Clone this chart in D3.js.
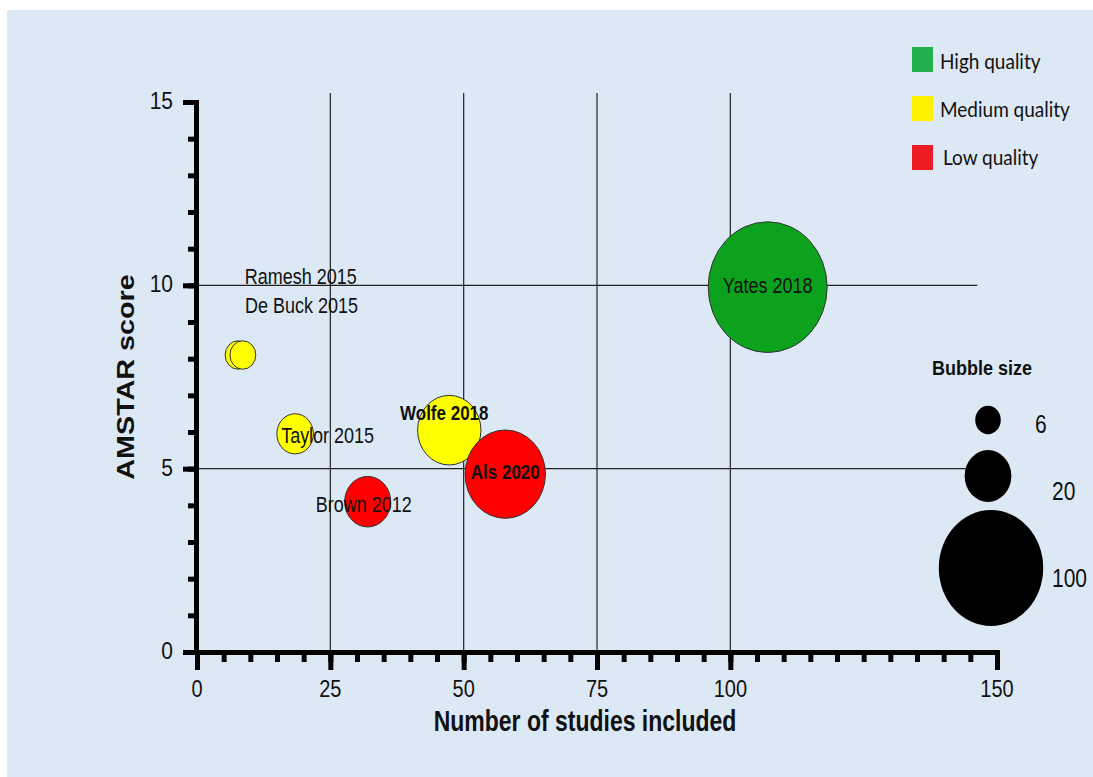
<!DOCTYPE html>
<html>
<head>
<meta charset="utf-8">
<script src="https://cdn.jsdelivr.net/npm/d3@7"></script>
<style>
body{margin:0;background:#fff}
svg{display:block}
</style>
</head>
<body>
<div id="chart"></div>
<script>
// data, drawn in this order (later ones sit on top)
var studies=["Wolfe 2018","Als 2020","Yates 2018","Brown 2012","Taylor 2015","De Buck 2015","Ramesh 2015"]
var nStudies=[47.3,57.8,107,32,18.4,7.7,8.6]
var amstar=[6.05,4.85,9.95,4.1,5.95,8.1,8.1]
var bubbleSize=[36,58,127,19,12,6,6]
var quality=["Medium","Low","High","Low","Medium","Medium","Medium"]
var boldLabel=[true,true,false,false,false,false,false]

var qualityNames=["High","Medium","Low"]
var qualityLabels=["High quality","Medium quality","Low quality"]
var sizeLegend=[6,20,100]

var xMajor=[0,25,50,75,100,150]
var yMajor=[0,5,10,15]
var gridX=[25,50,75,100]
var gridY=[5,10]

var width=1093,height=777

var svg=d3.select("#chart").append("svg")
		.attr("width",width)
		.attr("height",height)

svg.append("rect")
	.attr("x",7).attr("y",10)
	.attr("width",width-7).attr("height",height-10)
	.attr("fill","#dde8f5")

var x=d3.scaleLinear().domain([0,150]).range([197,997])
var y=d3.scaleLinear().domain([0,15]).range([652,102])
var r=d3.scaleSqrt().domain([0,100]).range([0,58])
var bubbleColor=d3.scaleOrdinal().domain(qualityNames).range(["#0ca21d","#ffff00","#ff0000"])
var keyColor=d3.scaleOrdinal().domain(qualityNames).range(["#22b14c","#fff200","#ed1c24"])

// stretched text (reference text is taller than it is wide)
function stext(g,str,px,py,size,opts){
	opts=opts||{}
	var k=opts.k||1.22
	var t=g.append("text")
		.attr("transform","translate("+px+","+py+") scale(1,"+k+")")
		.attr("font-family",opts.family||"'Liberation Sans', Arial, sans-serif")
		.attr("font-size",size+"px")
		.attr("font-weight",opts.bold?"bold":"normal")
		.attr("text-anchor",opts.anchor||"start")
		.attr("fill","#111")
		.text(str)
	return t
}

// grid lines
var grid=svg.append("g").attr("stroke","#222").attr("stroke-width",1.2)
grid.selectAll(".vx").data(gridX).enter().append("line")
	.attr("x1",function(d){return x(d)}).attr("x2",function(d){return x(d)})
	.attr("y1",y(15)-9).attr("y2",y(0))
grid.selectAll(".hy").data(gridY).enter().append("line")
	.attr("y1",function(d){return y(d)}).attr("y2",function(d){return y(d)})
	.attr("x1",x(0)).attr("x2",x(146.3))

// axes
function styleAxis(g){
	g.select(".domain").attr("stroke","#000").attr("stroke-width",5).attr("stroke-linecap","square")
	g.selectAll(".tick line").attr("stroke","#000").attr("stroke-width",5)
	g.selectAll("text").remove()
}
var xg=svg.append("g").attr("transform","translate(0,"+y(0)+")")
xg.append("g").call(d3.axisBottom(x).tickValues(d3.range(0,151,5)).tickSize(10).tickSizeOuter(0)).call(styleAxis)
xg.append("g").call(d3.axisBottom(x).tickValues(xMajor).tickSize(18).tickSizeOuter(0)).call(styleAxis)
var yg=svg.append("g").attr("transform","translate("+(x(0)-1)+",0)")
yg.append("g").call(d3.axisLeft(y).tickValues(d3.range(0,16,1)).tickSize(8).tickSizeOuter(0)).call(styleAxis)
yg.append("g").call(d3.axisLeft(y).tickValues(yMajor).tickSize(13).tickSizeOuter(0)).call(styleAxis)

xMajor.forEach(function(v){
	stext(svg,v,x(v),697,20,{anchor:"middle",k:1.2})
})
yMajor.forEach(function(v){
	stext(svg,v,173,y(v)+7,21,{anchor:"end",k:1.18})
})

stext(svg,"Number of studies included",585,731,23,{anchor:"middle",bold:true,k:1.25})
svg.append("text")
	.attr("transform","translate(134,377) rotate(-90) scale(1.25,1)")
	.attr("font-family","'Liberation Sans', Arial, sans-serif")
	.attr("font-size","23px")
	.attr("font-weight","bold")
	.attr("text-anchor","middle")
	.attr("fill","#111")
	.text("AMSTAR score")

// bubbles
var idx=d3.range(studies.length)
svg.selectAll(".bubble").data(idx).enter().append("ellipse")
	.attr("cx",function(i){return x(nStudies[i])})
	.attr("cy",function(i){return y(amstar[i])})
	.attr("ry",function(i){return r(bubbleSize[i])})
	.attr("rx",function(i){return r(bubbleSize[i])*0.91})
	.attr("fill",function(i){return bubbleColor(quality[i])})
	.attr("stroke","#333")
	.attr("stroke-width",1)

// label offsets from bubble centre, px
var labelOff={
	"Wolfe 2018":[-5,-10,"middle"],
	"Als 2020":[0,5,"middle"],
	"Yates 2018":[0,6,"middle"],
	"Brown 2012":[-4,10,"middle"],
	"Taylor 2015":[-14,9,"start"],
	"De Buck 2015":[7,-42,"start"],
	"Ramesh 2015":[2,-71,"start"]
}
idx.forEach(function(i){
	var o=labelOff[studies[i]]
	stext(svg,studies[i],x(nStudies[i])+o[0],y(amstar[i])+o[1],boldLabel[i]?17:18,{anchor:o[2],bold:boldLabel[i]})
})

// quality key
var key=svg.append("g")
qualityNames.forEach(function(q,i){
	key.append("rect")
		.attr("x",912).attr("y",47+i*49)
		.attr("width",21).attr("height",25)
		.attr("fill",keyColor(q))
	stext(key,qualityLabels[i],940+(i==2?3:0),69+i*48,19,{family:"Lato, 'Open Sans', sans-serif",k:1.12})
})

// bubble size key
stext(svg,"Bubble size",982,375,18,{anchor:"middle",bold:true,k:1.16})
var sizePos=[[988,420,1035,433],[988,476,1052,500],[991,568,1052,587]]
sizeLegend.forEach(function(v,i){
	var p=sizePos[i]
	svg.append("ellipse")
		.attr("cx",p[0]).attr("cy",p[1])
		.attr("ry",r(v)).attr("rx",r(v)*0.9)
		.attr("fill","#000")
	stext(svg,v,p[2],p[3],21,{k:1.2})
})
</script>
</body>
</html>
